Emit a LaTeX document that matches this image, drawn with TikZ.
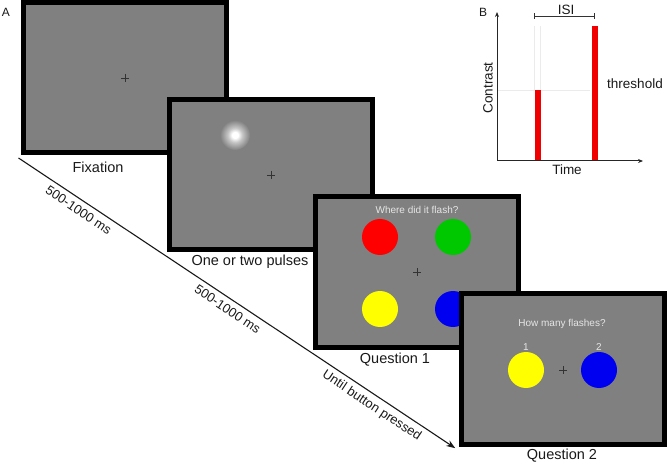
\documentclass[tikz,border=0pt]{standalone}
\usepackage{fontspec}
\setmainfont{Liberation Sans}
\usetikzlibrary{arrows.meta}
\definecolor{scrgray}{HTML}{808080}
\definecolor{qgreen}{HTML}{00C800}
\definecolor{qblue}{HTML}{0000F0}
\definecolor{qred}{HTML}{FF0000}
\definecolor{qyellow}{HTML}{FFFF00}
\definecolor{barred}{HTML}{F00000}
\pgfdeclareradialshading{blobshade}{\pgfpoint{0bp}{0bp}}{color(0bp)=(white); color(5bp)=(white); color(12bp)=(white!55!scrgray); color(25bp)=(scrgray); color(50bp)=(scrgray)}
\begin{document}
\begin{tikzpicture}[x=1pt,y=-1pt,
  screen/.style={draw=black, line width=5pt, fill=scrgray, minimum width=203pt, minimum height=150pt, inner sep=0pt},
  caption/.style={font=\fontsize{14.5}{16}\selectfont, text=black!90, inner sep=0pt},
  scrtext/.style={font=\fontsize{10}{12}\selectfont, text=white!90!black, inner sep=0pt},
  dot/.style={circle, minimum size=36pt, inner sep=0pt},
  timelabel/.style={font=\fontsize{13}{15}\selectfont, text=black!90, sloped, below=4.5pt, inner sep=0pt, text height=9.4pt, text depth=2.6pt},
  fixcross/.style={line width=0.9pt, draw=black!80},
  plottext/.style={font=\fontsize{13.5}{16}\selectfont, text=black!90, inner sep=0pt},
  paneltag/.style={font=\fontsize{12}{14}\selectfont, text=black!90, inner sep=0pt},
  axisline/.style={line width=1pt, draw=black!85},
  faint/.style={line width=0.6pt, draw=black!8},
  fixx/.pic={\draw[fixcross] (-4,0) -- (4,0) (0,-4) -- (0,4);}
]
\useasboundingbox (0,0) rectangle (667,465);

% ---------- Panel A ----------
\node[paneltag] (tagA) at (6,12.5) {A};

% Screen 1
\node[screen] (s1) at (125,78) {};
\pic at (s1.center) {fixx};
\node[caption] (c1) at (98,167) {Fixation};

% Screen 2
\node[screen] (s2) at (271,175) {};
\shade[shading=blobshade] (235,135) circle (15);
\pic at (s2.center) {fixx};
\node[caption] (c2) at (250,262) {One or two pulses};

% Screen 3
\node[screen] (s3) at (417,272) {};
\node[scrtext] (t3) at (417,210) {Where did it flash?};
\node[dot, fill=qred] (r3) at (380,237) {};
\node[dot, fill=qgreen] (g3) at (453,237) {};
\node[dot, fill=qyellow] (y3) at (380,309) {};
\node[dot, fill=qblue] (b3) at (453,309) {};
\pic at (s3.center) {fixx};
\node[caption] (c3) at (395,360) {Question 1};

% Screen 4
\node[screen] (s4) at (563,369) {};
\node[scrtext] (t4) at (562,324) {How many flashes?};
\node[scrtext] (n1) at (526,347) {1};
\node[scrtext] (n2) at (599,347) {2};
\node[dot, fill=qyellow] (y4) at (526,370) {};
\node[dot, fill=qblue] (b4) at (599,370) {};
\pic at (563,370) {fixx};
\node[caption] (c4) at (562,456) {Question 2};

% Time arrow
\coordinate (tstart) at ([shift={(-2.5,2.5)}]s1.south west);
\coordinate (tend) at ([shift={(-2.5,2.5)}]s4.south west);
\draw[line width=1.1pt, draw=black!90, -{Stealth[length=9pt,width=6.5pt]}, shorten >=1.5pt] (tstart) -- (tend)
  node[timelabel, pos=0.15] {500-1000 ms}
  node[timelabel, pos=0.49] {500-1000 ms}
  node[timelabel, pos=0.82] {Until button pressed};

% ---------- Panel B ----------
\node[paneltag] (tagB) at (483,12.5) {B};
\coordinate (origin) at (497,161);
\coordinate (ytop) at (497,12);
\coordinate (xend) at (643,161);

\draw[faint] (497,90) -- (590,90);
\draw[faint] (534.5,26) -- (534.5,90) (540.5,26) -- (540.5,90);
\fill[barred] (534.5,90) rectangle (540.5,161);
\fill[barred] (592,26) rectangle (598,161);

\draw[axisline, -{Stealth[length=5pt,width=4pt]}] (origin) -- (ytop);
\draw[axisline, -{Stealth[length=5pt,width=4pt]}] (origin) -- (xend);

\coordinate (isiL) at (534,16);
\coordinate (isiR) at (594,16);
\draw[line width=0.8pt, draw=black!80] ([yshift=-3pt]isiL) -- ([yshift=3pt]isiL) (isiL) -- (isiR) ([yshift=-3pt]isiR) -- ([yshift=3pt]isiR);
\node[plottext] (isi) at (566,9.5) {ISI};
\node[plottext, rotate=90] (contrast) at (488,88) {Contrast};
\node[plottext] (time) at (567,169.5) {Time};
\node[plottext] (thr) at (635,84) {threshold};
\end{tikzpicture}
\end{document}
